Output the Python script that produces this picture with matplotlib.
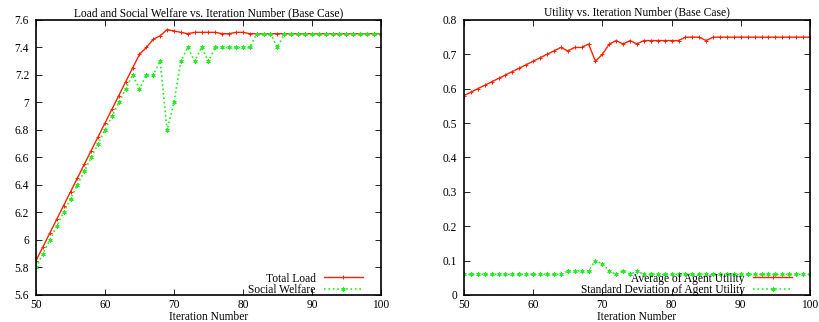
import matplotlib
matplotlib.use('Agg')
import matplotlib.pyplot as plt
import numpy as np

plt.rcParams['font.family'] = ['Liberation Serif', 'DejaVu Serif']

it = np.arange(50, 101)

# Load and Social Welfare
total_load = [5.85, 5.95, 6.05, 6.15, 6.25, 6.35, 6.45, 6.55, 6.65, 6.75,
              6.85, 6.95, 7.05, 7.15, 7.25, 7.35, 7.40, 7.46, 7.485, 7.53,
              7.52, 7.51, 7.50, 7.51, 7.51, 7.51, 7.51, 7.50, 7.50, 7.51,
              7.51, 7.50] + [7.50] * 19
social_welfare = [5.8, 5.9, 6.0, 6.1, 6.2, 6.3, 6.4, 6.5, 6.6, 6.7,
                  6.8, 6.9, 7.0, 7.1, 7.2, 7.1, 7.2, 7.2, 7.3, 6.8,
                  7.0, 7.3, 7.4, 7.3, 7.4, 7.3, 7.4, 7.4, 7.4, 7.4,
                  7.4, 7.4, 7.5, 7.5, 7.5, 7.4] + [7.5] * 15

# Utility
avg_util = [0.58, 0.59, 0.60, 0.61, 0.62, 0.63, 0.64, 0.65, 0.66, 0.67,
            0.68, 0.69, 0.70, 0.71, 0.72, 0.71, 0.72, 0.72, 0.73, 0.68,
            0.70, 0.73, 0.74, 0.73, 0.74, 0.73, 0.74, 0.74, 0.74, 0.74,
            0.74, 0.74, 0.75, 0.75, 0.75, 0.74] + [0.75] * 15
std_util = [0.06] * 15 + [0.07, 0.07, 0.07, 0.07, 0.10, 0.09, 0.07, 0.06,
                          0.07, 0.06, 0.07] + [0.06] * 25

red = '#ff2000'
green = '#22ee22'
star = (6, 2, 0)
fs = 8.3

fig = plt.figure(figsize=(8.19, 3.22), dpi=100)
ax1 = fig.add_axes([0.044, 0.084, 0.421, 0.854])
ax2 = fig.add_axes([0.5665, 0.084, 0.4225, 0.854])

ax1.plot(it, total_load, '-', color=red, lw=1, marker='+', ms=3, mew=0.7, label='Total Load')
ax1.plot(it, social_welfare, ':', color=green, lw=1.2, marker=star, ms=3, mew=0.7, label='Social Welfare')
ax1.set_ylim(5.6, 7.6)
ax1.set_yticks(np.arange(5.6, 7.61, 0.2))
ax1.set_yticklabels(['5.6', '5.8', '6', '6.2', '6.4', '6.6', '6.8', '7', '7.2', '7.4', '7.6'])
ax1.set_title('Load and Social Welfare vs. Iteration Number (Base Case)', fontsize=fs, pad=3)

ax2.plot(it, avg_util, '-', color=red, lw=1, marker='+', ms=3, mew=0.7, label='Average of Agent Utility')
ax2.plot(it, std_util, ':', color=green, lw=1.2, marker=star, ms=3, mew=0.7, label='Standard Deviation of Agent Utility')
ax2.set_ylim(0, 0.8)
ax2.set_yticks(np.arange(0, 0.81, 0.1))
ax2.set_yticklabels(['0', '0.1', '0.2', '0.3', '0.4', '0.5', '0.6', '0.7', '0.8'])
ax2.set_title('Utility vs. Iteration Number (Base Case)', fontsize=fs, pad=3)

for ax in (ax1, ax2):
    ax.set_xlim(50, 100)
    ax.set_xticks(range(50, 101, 10))
    ax.tick_params(direction='in', top=True, right=True, labelsize=fs, length=4, width=0.6)
    ax.tick_params(axis='x', pad=3)
    ax.tick_params(axis='y', pad=5)
    ax.set_xlabel('Iteration Number', fontsize=fs, labelpad=0)
    for s in ax.spines.values():
        s.set_linewidth(1.2)
    ax.legend(loc='lower right', bbox_to_anchor=(0.955, -0.012), frameon=False,
              markerfirst=False, fontsize=fs, handlelength=3.4, labelspacing=-0.05,
              borderaxespad=0, borderpad=0.2, handletextpad=0.7)

fig.savefig('out.png', dpi=100)
